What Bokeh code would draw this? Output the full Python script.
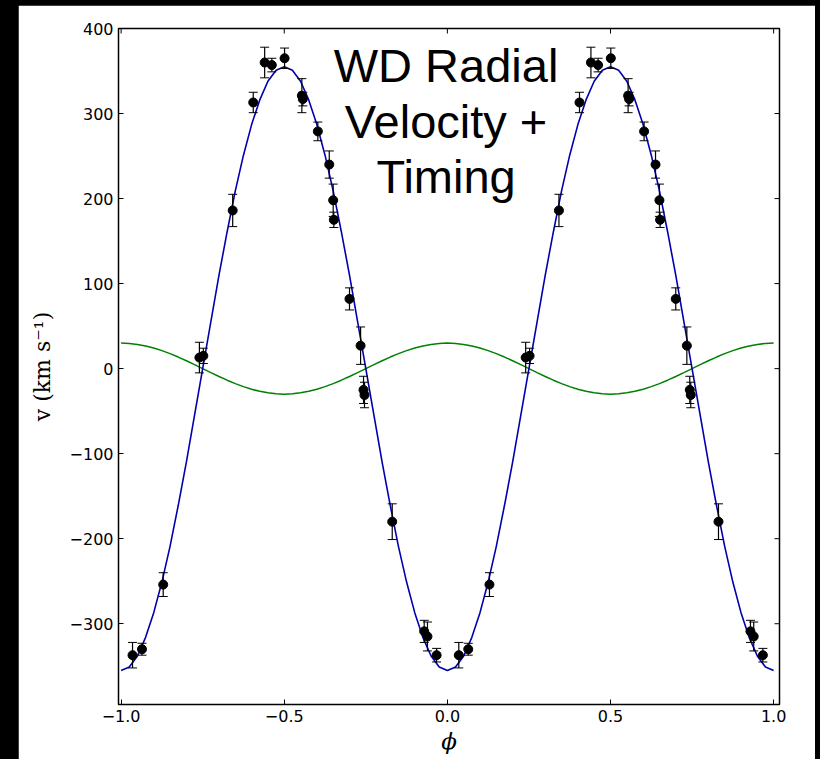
import math
from bokeh.plotting import figure
from bokeh.models import Range1d, FixedTicker, Whisker, ColumnDataSource, Label, TeeHead
from bokeh.layouts import column
from bokeh.embed import file_html
from bokeh.resources import INLINE

# ---- data (phase in [0, 1]; plotted twice, at phase and phase-1)
phase = [0.035, 0.064, 0.129, 0.240, 0.252, 0.342, 0.405, 0.440, 0.462, 0.501, 0.554, 0.557,
         0.603, 0.638, 0.650, 0.652, 0.700, 0.734, 0.743, 0.746, 0.831, 0.929, 0.939, 0.967]
velocity = [-337, -330, -254, 13, 15, 186, 313, 360, 357, 365, 321, 317,
            279, 240, 198, 175, 82, 27, -25, -31, -180, -309, -315, -337]
error = [15, 7, 14, 18, 9, 19, 12, 18, 8, 12, 20, 8,
         11, 16, 19, 9, 13, 22, 16, 15, 21, 13, 17, 8]

# model curves read at phase steps of 0.025 from -1 to 1
curve_phase = [round(-1 + 0.025 * k, 3) for k in range(81)]
curve_wd = [-355, -351, -338, -316, -287, -251, -209, -161, -110, -55, 0, 55, 110, 161, 209, 251,
            287, 316, 338, 351, 355, 351, 338, 316, 287, 251, 209, 161, 110, 55, 0, -55, -110,
            -161, -209, -251, -287, -316, -338, -351,
            -355, -351, -338, -316, -287, -251, -209, -161, -110, -55, 0, 55, 110, 161, 209, 251,
            287, 316, 338, 351, 355, 351, 338, 316, 287, 251, 209, 161, 110, 55, 0, -55, -110,
            -161, -209, -251, -287, -316, -338, -351, -355]
curve_comp = [30, 29.6, 28.5, 26.7, 24.3, 21.2, 17.6, 13.6, 9.3, 4.7, 0, -4.7, -9.3, -13.6, -17.6,
              -21.2, -24.3, -26.7, -28.5, -29.6, -30, -29.6, -28.5, -26.7, -24.3, -21.2, -17.6,
              -13.6, -9.3, -4.7, 0, 4.7, 9.3, 13.6, 17.6, 21.2, 24.3, 26.7, 28.5, 29.6,
              30, 29.6, 28.5, 26.7, 24.3, 21.2, 17.6, 13.6, 9.3, 4.7, 0, -4.7, -9.3, -13.6, -17.6,
              -21.2, -24.3, -26.7, -28.5, -29.6, -30, -29.6, -28.5, -26.7, -24.3, -21.2, -17.6,
              -13.6, -9.3, -4.7, 0, 4.7, 9.3, 13.6, 17.6, 21.2, 24.3, 26.7, 28.5, 29.6, 30]

x_ticks = [-1.0, -0.5, 0.0, 0.5, 1.0]
x_tick_labels = ["\u22121.0", "\u22120.5", "0.0", "0.5", "1.0"]
y_ticks = [-300, -200, -100, 0, 100, 200, 300, 400]
y_tick_labels = ["\u2212300", "\u2212200", "\u2212100", "0", "100", "200", "300", "400"]
title_lines = ["WD Radial", "Velocity +", "Timing"]

# ---- build
X0, X1, Y0, Y1 = -1.008, 1.018, -395, 400
xs = [ph - 1 for ph in phase] + list(phase)
vs = velocity + velocity
es = error + error
src = ColumnDataSource(dict(x=xs, v=vs,
                            lo=[v - e for v, e in zip(vs, es)],
                            hi=[v + e for v, e in zip(vs, es)]))

fig = figure(width=797, height=754, output_backend="svg", toolbar_location=None,
             x_range=Range1d(X0, X1), y_range=Range1d(Y0, Y1),
             min_border_left=100, min_border_right=36, min_border_top=23, min_border_bottom=55,
             background_fill_color="white", border_fill_color="white")
fig.margin = (5, 5, 0, 18)
fig.xgrid.visible = False
fig.ygrid.visible = False
fig.outline_line_color = "black"
fig.outline_line_width = 1.5
fig.outline_line_alpha = 1.0

fig.xaxis.ticker = FixedTicker(ticks=x_ticks)
fig.xaxis.major_label_overrides = {t: l for t, l in zip(x_ticks, x_tick_labels)}
fig.yaxis.ticker = FixedTicker(ticks=y_ticks)
fig.yaxis.major_label_overrides = {t: l for t, l in zip(y_ticks, y_tick_labels)}
for ax in fig.axis:
    ax.axis_line_color = None
    ax.major_tick_in = 5
    ax.major_tick_out = 0
    ax.minor_tick_in = 0
    ax.minor_tick_out = 0
    ax.major_tick_line_color = "black"
    ax.major_tick_line_width = 1
    ax.major_label_text_font = "DejaVu Sans"
    ax.major_label_text_font_size = "16px"
    ax.major_label_text_color = "black"
    ax.major_label_standoff = 5
    ax.axis_label_text_color = "black"

# inward ticks on the top and right edges (half of each dash is clipped by the frame)
fig.scatter(x_ticks, [Y1] * len(x_ticks), marker="dash", size=10, angle=math.pi / 2,
            line_color="black", line_width=1)
fig.scatter([X1] * len(y_ticks), y_ticks, marker="dash", size=10,
            line_color="black", line_width=1)

fig.xaxis.axis_label = "\u03d5"
fig.xaxis.axis_label_text_font = "DejaVu Serif"
fig.xaxis.axis_label_text_font_style = "italic"
fig.xaxis.axis_label_text_font_size = "23px"
fig.xaxis.axis_label_standoff = 3
fig.yaxis.axis_label = "v (km s\u207b\u00b9)"
fig.yaxis.axis_label_text_font = "DejaVu Serif"
fig.yaxis.axis_label_text_font_style = "normal"
fig.yaxis.axis_label_text_font_size = "22px"
fig.yaxis.axis_label_standoff = 12

fig.line(curve_phase, curve_comp, line_color="#008000", line_width=1.5)

fig.add_layout(Whisker(base="x", lower="lo", upper="hi", source=src, level="glyph",
                       line_color="black", line_width=1.2,
                       upper_head=TeeHead(size=9, line_color="black", line_width=1),
                       lower_head=TeeHead(size=9, line_color="black", line_width=1)))
fig.line(curve_phase, curve_wd, line_color="#0000b0", line_width=1.6)
fig.scatter("x", "v", source=src, size=9, color="black")

for txt, yv in zip(title_lines, [356, 291, 226]):
    fig.add_layout(Label(x=-0.004, y=yv, text=txt, text_align="center", text_baseline="alphabetic",
                         text_font="Liberation Sans", text_font_size="47px", text_color="black"))

p = column(fig, styles={"background-color": "black"})

open("out.html", "w").write(file_html(p, INLINE))
